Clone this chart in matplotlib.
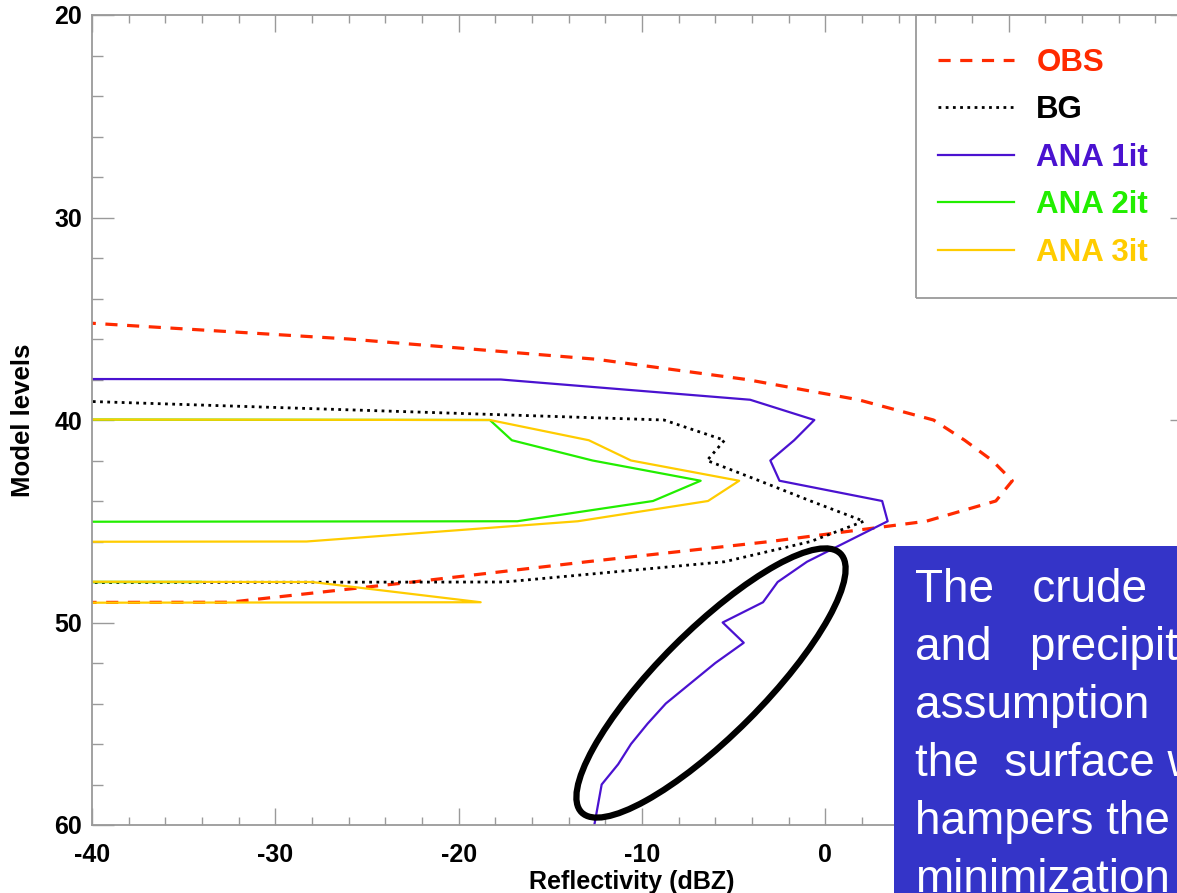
import numpy as np
import matplotlib.pyplot as plt
from matplotlib.patches import Ellipse, Rectangle
from matplotlib.ticker import MultipleLocator

MISSING = -999.0  # no echo at this level

levels = np.arange(35, 61)

obs = [-44, -26, -12.5, -4.3, 1.8, 5.9, 7.6, 9.1, 10.2, 9.3, 5.5, -3.0, -13.0,
       -22.5, -32.5] + [MISSING] * 11
bg = [MISSING] * 4 + [-43, -8.8, -5.5, -6.45, -3.6, -0.8, 2.1, -0.8, -5.5,
                      -17.5] + [MISSING] * 12
ana1 = [MISSING] * 3 + [-17.7, -4.1, -0.6, -1.7, -3.0, -2.5, 3.1, 3.4, 1.2,
                        -1.0, -2.6, -3.4, -5.6, -4.45, -6.0, -7.35, -8.7, -9.7,
                        -10.6, -11.3, -12.2, -12.4, -12.6]
ana2 = [MISSING] * 5 + [-18.3, -17.1, -12.7, -6.8, -9.4, -16.8, MISSING,
                        MISSING, -34.0] + [MISSING] * 12
ana3 = [MISSING] * 5 + [-18.3, -12.9, -10.6, -4.7, -6.4, -13.5, -28.3,
                        MISSING, -28.0, -18.8] + [MISSING] * 11

labels = ['OBS', 'BG', 'ANA 1it', 'ANA 2it', 'ANA 3it']
colors = ['#FF2A00', 'black', '#4A12D0', '#22EE00', '#FFCC00']

note = ['The   crude', 'and   precipitation', 'assumption',
        'the  surface w', 'hampers the', 'minimization']

plt.rcParams['font.family'] = ['Liberation Sans', 'DejaVu Sans']
plt.rcParams['axes.unicode_minus'] = False

fig = plt.figure(figsize=(11.77, 8.93), dpi=100)
ax = fig.add_axes([92 / 1177, 68 / 893, 1100 / 1177, 810 / 893])

ax.plot(obs, levels, color=colors[0], lw=2.3, ls=(0, (3.8, 3.0)), label=labels[0])
ax.plot(bg, levels, color=colors[1], lw=2.0, ls=(0, (1, 1.6)), label=labels[1])
ax.plot(ana1, levels, color=colors[2], lw=1.6, label=labels[2])
ax.plot(ana2, levels, color=colors[3], lw=1.6, label=labels[3])
ax.plot(ana3, levels, color=colors[4], lw=1.6, label=labels[4])

ax.set_xlim(-40, 20)
ax.set_ylim(60, 20)
ax.xaxis.set_major_locator(MultipleLocator(10))
ax.xaxis.set_minor_locator(MultipleLocator(2))
ax.yaxis.set_major_locator(MultipleLocator(10))
ax.yaxis.set_minor_locator(MultipleLocator(2))

grey = '#9a9a9a'
for s in ax.spines.values():
    s.set_color(grey)
    s.set_linewidth(1.3)
ax.tick_params(which='both', direction='in', top=True, right=True, color=grey,
               width=1.0, labelsize=18)
ax.tick_params(axis='x', which='major', length=12, pad=13)
ax.tick_params(axis='x', which='minor', length=6)
ax.tick_params(axis='y', which='major', length=16, pad=7)
ax.tick_params(axis='y', which='minor', length=8)
for t in ax.get_xticklabels() + ax.get_yticklabels():
    t.set_fontweight('bold')
ax.get_yticklabels()[0].set_verticalalignment('top')

ax.set_xlabel('Reflectivity (dBZ)', fontsize=18, fontweight='bold')
ax.xaxis.set_label_coords(0.491, -0.056)
ax.set_ylabel('Model levels', fontsize=18.5, fontweight='bold')
ax.yaxis.set_label_coords(-0.052, 0.5)

# legend frame runs from the top of the axes down to level ~34
leg_x0 = (916 - 92) / 1100
leg_y0 = (825 - 298) / 810
frame = Rectangle((leg_x0, leg_y0), 1.0, 1.0 - leg_y0, transform=ax.transAxes,
                  fill=False, edgecolor=grey, lw=1.3, clip_on=False, zorder=4)
ax.add_patch(frame)
leg = ax.legend(loc='upper left', bbox_to_anchor=(leg_x0, 1.0 - 11 / 810),
                borderaxespad=0, handlelength=2.45, handletextpad=0.7,
                labelspacing=0.56, borderpad=0.7, frameon=False,
                labelcolor='linecolor', prop={'weight': 'bold', 'size': 22.5})

# hand-drawn style ellipse around the low-level ANA 1it branch
ell = Ellipse((7.11, 2.10), 3.66, 1.05, angle=45, fill=False, lw=4.5,
              edgecolor='black', transform=fig.dpi_scale_trans, zorder=5)
fig.add_artist(ell)

box = Rectangle((894 / 1177, -0.01), 0.3, (893 - 546) / 893 + 0.01,
                transform=fig.transFigure, facecolor='#3434C8',
                edgecolor='none', zorder=6)
fig.add_artist(box)
for i, line in enumerate(note):
    fig.text(915 / 1177, (893 - 602 - 58 * i) / 893, line, color='white',
             fontsize=33, va='baseline', ha='left', zorder=7)

fig.savefig('out.png', dpi=100)
